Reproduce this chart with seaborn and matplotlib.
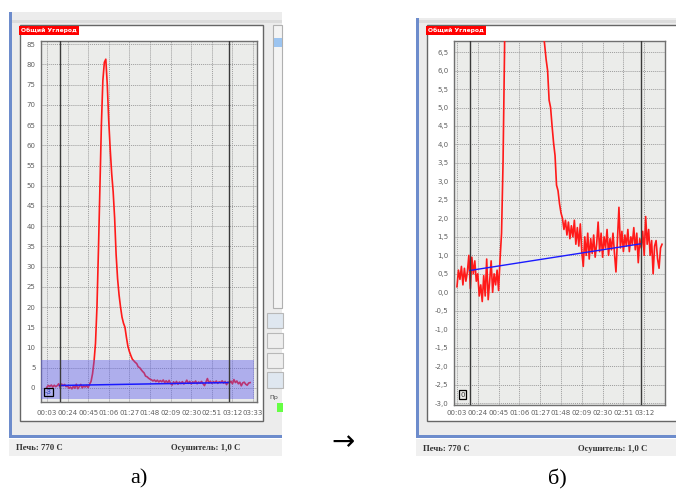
import numpy as np
import pandas as pd
import matplotlib
matplotlib.use("Agg")
import matplotlib.pyplot as plt
from matplotlib.patches import Rectangle
import seaborn as sns

# ---------------- data ----------------
T_START = 3.0   # s, first sample
T_STEP = 1.5    # s, sampling period

carbon_baseline = [0.15, 0.6, 0.35, 0.7, 0.2, 0.65, 0.3, 0.55, 1.0, 0.1,
                   0.95, 0.5, 0.85, 0.3, 0.5, -0.1, 0.2, -0.25, 0.45, -0.1,
                   0.9, -0.2, 0.3, 0.85, 0.0, 0.5, 0.2, 0.6, 0.05]
carbon_peak = [0.9, 1.6, 3.5, 6.5, 11, 20, 34, 50, 65, 76,
               80.5, 81.3, 75, 66, 59, 53, 48.5, 42, 33, 27,
               23, 20, 17.5, 16, 15, 12.5, 10.3, 9.0, 8.0, 7.1,
               6.7, 6.3, 6.0, 5.2, 5.0, 4.5, 4.05, 3.7, 2.9, 2.75,
               2.4, 2.15, 2.0]
carbon_tail = [1.7, 1.95, 1.55, 1.9, 1.45, 1.8, 1.5, 1.95, 1.3, 1.75,
               1.25, 1.85, 1.1, 0.7, 1.5, 1.0, 1.6, 0.9, 1.45, 1.05,
               1.55, 0.95, 1.3, 1.9, 1.1, 1.6, 0.95, 1.5, 1.2, 1.7,
               1.0, 1.45, 1.15, 1.6, 1.05, 0.55, 1.4, 2.3, 1.2, 1.65,
               1.1, 1.55, 1.25, 1.7, 1.1, 1.5, 1.3, 1.75, 1.15, 1.6,
               0.8, 1.45, 1.2, 1.65, 1.0, 2.05, 1.3, 1.7, 1.0, 1.4,
               0.5, 1.25, 1.4, 0.9, 0.65, 1.2, 1.3]

baseline_t = [16, 188]
baseline_v = [0.59, 1.31]
marker_t = [16, 188.5]
band_low, band_high = -2.7, 6.9

x_tick_seconds = [3, 24, 45, 66, 87, 108, 129, 150, 171, 192, 213]
x_tick_labels = ["00:03", "00:24", "00:45", "01:06", "01:27", "01:48",
                 "02:09", "02:30", "02:51", "03:12", "03:33"]
a_y_ticks = [0, 5, 10, 15, 20, 25, 30, 35, 40, 45, 50, 55, 60, 65, 70, 75, 80, 85]
b_y_ticks = [-3.0, -2.5, -2.0, -1.5, -1.0, -0.5, 0.0, 0.5, 1.0, 1.5,
             2.0, 2.5, 3.0, 3.5, 4.0, 4.5, 5.0, 5.5, 6.0, 6.5]

carbon = carbon_baseline + carbon_peak + carbon_tail
time_s = T_START + T_STEP * np.arange(len(carbon))
df = pd.DataFrame({"t": time_s, "v": carbon})
df_base = pd.DataFrame({"t": baseline_t, "v": baseline_v})

# ---------------- figure ----------------
W, H = 676, 494
fig = plt.figure(figsize=(W / 100, H / 100), dpi=100)
fig.patch.set_facecolor("white")


def fx(x):
    return x / W


def fy(y):
    return 1 - y / H


def rect(x0, y0, x1, y1, **kw):
    kw.setdefault("zorder", -5)
    fig.add_artist(Rectangle((fx(x0), fy(y1)), (x1 - x0) / W, (y1 - y0) / H,
                             transform=fig.transFigure, **kw))


BLUE_BORDER = "#6d8ccc"
WIN_BG = "#ececec"

# ---- left window chrome ----
rect(9, 12, 282, 438, fc=WIN_BG, ec="none")
rect(9, 12, 12, 438, fc=BLUE_BORDER, ec="none")
rect(9, 435, 282, 438, fc=BLUE_BORDER, ec="none")
rect(12, 20, 282, 23, fc="#dcdcdc", ec="none")
rect(19.5, 25, 263, 421, fc="white", ec="#666666", lw=1.0)
rect(273, 25, 282, 308, fc="#f4f4f4", ec="#b0b0b0", lw=0.8)
rect(274, 38, 282, 47, fc="#9cc4f0", ec="none", zorder=-4)
for (y0, y1, c) in [(313, 328, "#dfe7f0"), (333, 348, "#eeeeee"),
                    (353, 368, "#eeeeee"), (372, 388, "#dfe7f0")]:
    rect(267, y0, 283, y1, fc=c, ec="#b8b8b8", lw=0.8, zorder=-4)
rect(277, 403, 283, 412, fc="#66ff44", ec="none", zorder=-4)
fig.text(fx(269), fy(397), "Пр", fontsize=4.5, color="#444444", va="center")
rect(9, 439, 282, 456, fc="#f0f0f0", ec="none")

# ---- right window chrome ----
rect(416, 18, 676, 438, fc=WIN_BG, ec="none")
rect(416, 18, 419, 438, fc=BLUE_BORDER, ec="none")
rect(416, 435, 676, 438, fc=BLUE_BORDER, ec="none")
rect(419, 20, 676, 23, fc="#dcdcdc", ec="none")
rect(427, 25, 677, 421, fc="white", ec="#666666", lw=1.0)
rect(416, 439, 676, 456, fc="#f0f0f0", ec="none")

# ---- status bars & captions ----
sb_font = dict(family="Liberation Serif", fontweight="bold", fontsize=6.3,
               color="#333333", va="center")
fig.text(fx(16), fy(448), "Печь: 770 С", **sb_font)
fig.text(fx(171), fy(448), "Осушитель: 1,0 С", **sb_font)
fig.text(fx(423), fy(449), "Печь: 770 С", **sb_font)
fig.text(fx(578), fy(449), "Осушитель: 1,0 С", **sb_font)

fig.text(fx(139), fy(479), "а)", family="Liberation Serif", fontsize=16,
         ha="center", va="center", color="black")
fig.text(fx(557), fy(479), "б)", family="Liberation Serif", fontsize=16,
         ha="center", va="center", color="black")
fig.text(fx(343), fy(442), "→", family="DejaVu Sans", fontsize=20,
         ha="center", va="center", color="black")

lab_kw = dict(color="white", fontsize=4.3, fontweight="bold", va="center",
              family="DejaVu Sans",
              bbox=dict(fc="#ff0000", ec="none", pad=1.3))
fig.text(fx(21), fy(30.5), "Общий Углерод", **lab_kw)
fig.text(fx(428), fy(30.5), "Общий Углерод", **lab_kw)


# ---------------- panels ----------------
def style_axes(ax, xlim, ylim, xt, xl, yt, yl, xpad):
    ax.set_facecolor("#ebecea")
    ax.set_xlim(*xlim)
    ax.set_ylim(*ylim)
    ax.set_xticks(xt)
    ax.set_xticklabels(xl)
    ax.set_yticks(yt)
    ax.set_yticklabels(yl)
    ax.set_xlabel("")
    ax.set_ylabel("")
    ax.grid(True, color="#9c9c9c", ls=(0, (1, 1)), lw=0.7, zorder=0)
    ax.set_axisbelow(True)
    ax.tick_params(axis="both", length=0, labelsize=5, labelcolor="#606060")
    ax.tick_params(axis="y", pad=4)
    ax.tick_params(axis="x", pad=xpad)
    for s in ax.spines.values():
        s.set_color("#707070")
        s.set_linewidth(1.0)
    if ax.get_legend() is not None:
        ax.get_legend().remove()


# panel a
axa = fig.add_axes([fx(41), fy(402), (257 - 41) / W, (402 - 41) / H])
sns.lineplot(data=df, x="t", y="v", ax=axa, color="#ff1a1a", lw=1.2,
             estimator=None, sort=False, zorder=3)
sns.lineplot(data=df_base, x="t", y="v", ax=axa, color="#1a1aff", lw=1.1,
             estimator=None, sort=False, zorder=5)
for t in marker_t:
    axa.axvline(t, color="#3a3a3a", lw=1.0, zorder=6)
axa.axhspan(band_low, band_high, xmin=0, xmax=(254 - 41) / 216,
            color="#5a5af0", alpha=0.42, lw=0, zorder=4)
style_axes(axa, (-3, 217), (-3.5, 85.8), x_tick_seconds, x_tick_labels,
           a_y_ticks, [str(v) for v in a_y_ticks], 6)
axa.text(0.035, 0.028, "-3", transform=axa.transAxes, fontsize=5,
         color="#2a40c0", ha="center", va="center", zorder=7,
         bbox=dict(fc="none", ec="black", lw=0.9, pad=1.0))

# panel b
axb = fig.add_axes([fx(454), fy(405), (665 - 454) / W, (405 - 41) / H])
sns.lineplot(data=df, x="t", y="v", ax=axb, color="#ff1a1a", lw=1.2,
             estimator=None, sort=False, zorder=3)
sns.lineplot(data=df_base, x="t", y="v", ax=axb, color="#1a1aff", lw=1.0,
             estimator=None, sort=False, zorder=5)
for t in marker_t:
    axb.axvline(t, color="#3a3a3a", lw=1.0, zorder=6)
style_axes(axb, (0, 213), (-3.05, 6.8), x_tick_seconds[:-1], x_tick_labels[:-1],
           b_y_ticks, [f"{v:.1f}".replace(".", ",") for v in b_y_ticks], 3.5)
axb.text(0.04, 0.028, "0", transform=axb.transAxes, fontsize=5,
         color="#333333", ha="center", va="center", zorder=7,
         bbox=dict(fc="none", ec="black", lw=0.9, pad=1.0))

fig.savefig("out.png", dpi=100, facecolor="white")
